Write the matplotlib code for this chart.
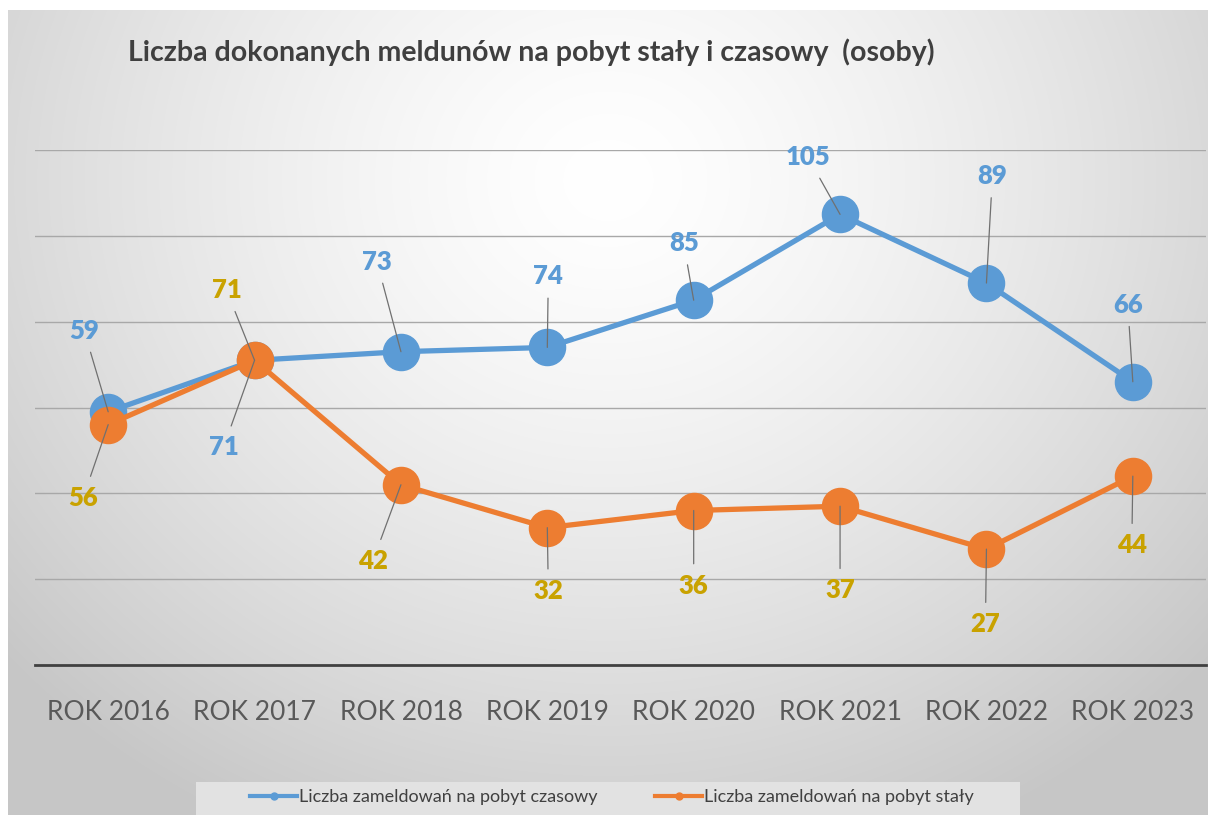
import numpy as np
import matplotlib
matplotlib.use("Agg")
from matplotlib import pyplot as plt
from matplotlib.patches import Rectangle
from matplotlib.lines import Line2D

# data
years = ["ROK 2016", "ROK 2017", "ROK 2018", "ROK 2019",
         "ROK 2020", "ROK 2021", "ROK 2022", "ROK 2023"]
czasowy = [59, 71, 73, 74, 85, 105, 89, 66]
staly = [56, 71, 42, 32, 36, 37, 27, 44]

# label offsets in pixels (dx, dy), dy upward
off_czasowy = [(-24, 81), (-31, -87), (-24, 90), (1, 71), (-10, 57), (-32, 57), (6, 107), (-5, 77)]
off_staly = [(-25, -73), (-28, 70), (-28, -76), (1, -63), (0, -75), (0, -84), (-1, -75), (-1, -69)]

BLUE = "#5B9BD5"
ORANGE = "#ED7D31"
BLUE_TXT = "#5B9BD5"
GOLD_TXT = "#C9A200"

plt.rcParams['font.family'] = ['Lato', 'DejaVu Sans']

W, H = 1208, 815
fig = plt.figure(figsize=(W / 100, H / 100), dpi=100)
fig.patch.set_facecolor("white")

# radial gradient background
bg = fig.add_axes([8 / W, 0, 1200 / W, 805 / H])
yy, xx = np.mgrid[0:805, 0:1200]
r = np.sqrt(((xx - 600) / 1.0) ** 2 + ((yy - 170) / 0.9) ** 2)
shade = 1.0 - 0.22 * np.clip(r / 800, 0, 1) ** 1.4
img = np.dstack([shade, shade, shade])
bg.imshow(img, aspect="auto", interpolation="bilinear")
bg.set_axis_off()

ax = fig.add_axes([35 / W, 1 - 665 / H, 1171 / W, 515 / H])
ax.patch.set_alpha(0)
x = np.arange(len(years))

ax.set_ylim(0, 120)
ax.set_xlim(-0.5, len(years) - 0.5)
ax.set_yticks(np.arange(20, 121, 20))
ax.grid(axis="y", color="#a8a8a8", linewidth=1)
ax.set_axisbelow(True)
for s in ["top", "right", "left"]:
    ax.spines[s].set_visible(False)
ax.spines["bottom"].set_color("#404040")
ax.spines["bottom"].set_linewidth(2)
ax.tick_params(axis="y", left=False, labelleft=False)
ax.tick_params(axis="x", bottom=False, pad=22, labelsize=19, labelcolor="#595959")
ax.set_xticks(x)
ax.set_xticklabels(years)

ax.plot(x, czasowy, color=BLUE, lw=3.8, marker="o", ms=26, zorder=3,
        label="Liczba zameldowań na pobyt czasowy")
ax.plot(x, staly, color=ORANGE, lw=3.8, marker="o", ms=26, zorder=4,
        label="Liczba zameldowań na pobyt stały")

for vals, offs, col in [(czasowy, off_czasowy, BLUE_TXT), (staly, off_staly, GOLD_TXT)]:
    for xi, v, (dx, dy) in zip(x, vals, offs):
        ax.annotate(str(v), xy=(xi, v), xytext=(dx, dy), textcoords="offset pixels",
                    ha="center", va="center", fontsize=18.5, fontweight="heavy", color=col,
                    arrowprops=dict(arrowstyle="-", color="#707070", lw=0.9,
                                    shrinkA=5, shrinkB=0),
                    zorder=5)

fig.text(531 / W, 1 - 52 / H, "Liczba dokonanych meldunów na pobyt stały i czasowy  (osoby)",
         ha="center", va="center", fontsize=20.5, fontweight="bold", color="#3f3f3f")

# legend
fig.patches.append(Rectangle((196 / W, 0), (1020 - 196) / W, 33 / H, transform=fig.transFigure,
                             facecolor="#e2e2e2", edgecolor="none", zorder=0))
l = ["Liczba zameldowań na pobyt czasowy", "Liczba zameldowań na pobyt stały"]
h = [Line2D([], [], color=BLUE, lw=3, marker="o", ms=5),
     Line2D([], [], color=ORANGE, lw=3, marker="o", ms=5)]
fig.legend(h, l, loc="center", bbox_to_anchor=(612 / W, 1 - 797 / H), ncol=2,
           frameon=False, fontsize=13, labelcolor="#404040", handlelength=2.6,
           handletextpad=0.1, columnspacing=3.2)

fig.savefig("out.png", dpi=100)
